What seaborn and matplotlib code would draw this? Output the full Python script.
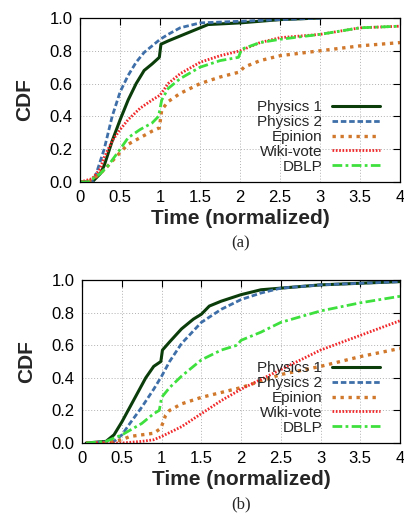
import numpy as np
import pandas as pd
import seaborn as sns
import matplotlib.pyplot as plt

# Panel (a)
a_phys1_x = [0, 0.15, 0.25, 0.3, 0.4, 0.5, 0.6, 0.7, 0.8, 0.9, 0.99, 1.01, 1.1, 1.25, 1.4, 1.5, 1.6, 2.0, 2.5, 3.0]
a_phys1_y = [0, 0.0, 0.05, 0.1, 0.25, 0.38, 0.5, 0.6, 0.68, 0.72, 0.76, 0.84, 0.86, 0.89, 0.92, 0.94, 0.96, 0.97, 0.99, 1.0]
a_phys2_x = [0, 0.15, 0.2, 0.3, 0.4, 0.5, 0.6, 0.7, 0.8, 0.9, 1.0, 1.1, 1.25, 1.5, 2.0, 2.5, 3.05]
a_phys2_y = [0, 0.0, 0.05, 0.2, 0.4, 0.55, 0.65, 0.73, 0.79, 0.83, 0.87, 0.9, 0.94, 0.97, 0.98, 0.99, 1.0]
a_epin_x = [0, 0.1, 0.25, 0.35, 0.5, 0.6, 0.75, 0.9, 0.99, 1.02, 1.1, 1.25, 1.5, 1.75, 1.99, 2.05, 2.25, 2.5, 3.0, 3.5, 4.0]
a_epin_y = [0, 0.0, 0.05, 0.1, 0.18, 0.23, 0.27, 0.31, 0.33, 0.44, 0.49, 0.54, 0.6, 0.64, 0.67, 0.7, 0.74, 0.77, 0.8, 0.83, 0.85]
a_wiki_x = [0, 0.15, 0.25, 0.3, 0.4, 0.5, 0.6, 0.75, 0.9, 1.0, 1.1, 1.25, 1.5, 1.75, 2.0, 2.25, 2.5, 3.0, 3.5, 4.0]
a_wiki_y = [0, 0.02, 0.08, 0.15, 0.25, 0.32, 0.38, 0.45, 0.5, 0.53, 0.6, 0.66, 0.73, 0.77, 0.8, 0.85, 0.88, 0.9, 0.94, 0.95]
a_dblp_x = [0, 0.1, 0.25, 0.35, 0.5, 0.6, 0.75, 0.9, 0.98, 1.02, 1.1, 1.25, 1.5, 1.75, 1.98, 2.02, 2.25, 2.5, 3.0, 3.5, 4.0]
a_dblp_y = [0, 0.0, 0.05, 0.1, 0.2, 0.27, 0.32, 0.36, 0.4, 0.5, 0.57, 0.63, 0.7, 0.74, 0.76, 0.81, 0.85, 0.87, 0.9, 0.94, 0.95]

# Panel (b)
b_phys1_x = [0.05, 0.3, 0.4, 0.5, 0.6, 0.7, 0.8, 0.9, 0.99, 1.01, 1.1, 1.25, 1.4, 1.5, 1.6, 1.75, 2.0, 2.25, 2.5, 3.0, 3.5, 4.0]
b_phys1_y = [0.0, 0.01, 0.05, 0.13, 0.22, 0.31, 0.4, 0.47, 0.5, 0.57, 0.62, 0.7, 0.76, 0.79, 0.84, 0.87, 0.91, 0.94, 0.95, 0.97, 0.98, 0.99]
b_phys2_x = [0.05, 0.4, 0.5, 0.6, 0.75, 0.9, 1.0, 1.1, 1.25, 1.5, 1.75, 2.0, 2.25, 2.5, 3.0, 3.5, 4.0]
b_phys2_y = [0.0, 0.01, 0.05, 0.12, 0.22, 0.33, 0.41, 0.5, 0.61, 0.74, 0.82, 0.88, 0.92, 0.95, 0.97, 0.98, 0.99]
b_epin_x = [0.05, 0.3, 0.5, 0.6, 0.75, 0.9, 0.99, 1.05, 1.1, 1.25, 1.5, 1.75, 2.0, 2.25, 2.5, 3.0, 3.5, 4.0]
b_epin_y = [0.0, 0.0, 0.02, 0.04, 0.05, 0.06, 0.09, 0.17, 0.2, 0.24, 0.28, 0.31, 0.34, 0.38, 0.42, 0.47, 0.53, 0.58]
b_wiki_x = [0.05, 0.5, 0.75, 0.9, 1.0, 1.25, 1.5, 1.75, 2.0, 2.25, 2.5, 3.0, 3.5, 4.0]
b_wiki_y = [0.0, 0.0, 0.01, 0.02, 0.04, 0.1, 0.18, 0.26, 0.33, 0.39, 0.45, 0.57, 0.66, 0.75]
b_dblp_x = [0.05, 0.3, 0.5, 0.75, 0.9, 0.97, 1.0, 1.1, 1.25, 1.5, 1.75, 1.95, 2.0, 2.25, 2.5, 3.0, 3.5, 4.0]
b_dblp_y = [0.0, 0.01, 0.05, 0.12, 0.18, 0.2, 0.28, 0.34, 0.41, 0.51, 0.57, 0.6, 0.63, 0.68, 0.74, 0.81, 0.86, 0.9]

etiquetas = ["Physics 1", "Physics 2", "Epinion", "Wiki-vote", "DBLP"]
colores = ["#0b3d0b", "#3f6fa8", "#d0782c", "#f0282a", "#3ee03e"]
estilos = [dict(ls="-", lw=2.2),
           dict(ls=(0, (2.0, 1.0)), lw=2.0),
           dict(ls=(0, (1.0, 1.4)), lw=2.4),
           dict(ls=(0, (0.6, 0.6)), lw=2.0),
           dict(ls=(0, (3.5, 1.2, 1.0, 1.2)), lw=2.0)]

panel_a = [(a_phys1_x, a_phys1_y), (a_phys2_x, a_phys2_y), (a_epin_x, a_epin_y),
           (a_wiki_x, a_wiki_y), (a_dblp_x, a_dblp_y)]
panel_b = [(b_phys1_x, b_phys1_y), (b_phys2_x, b_phys2_y), (b_epin_x, b_epin_y),
           (b_wiki_x, b_wiki_y), (b_dblp_x, b_dblp_y)]

sns.set_style("white")
plt.rcParams['font.family'] = ['Liberation Sans', 'DejaVu Sans']

fig = plt.figure(figsize=(4.04, 5.21), dpi=100)
ax_a = fig.add_axes([0.1985, 0.6507, 0.7915, 0.3148])
ax_b = fig.add_axes([0.2035, 0.1497, 0.7865, 0.3129])


def graficar_panel(ax, series, letra):
    for (xs, ys), lab, col, est in zip(series, etiquetas, colores, estilos):
        sns.lineplot(x=xs, y=ys, ax=ax, color=col, label=lab,
                     linestyle=est["ls"], linewidth=est["lw"], sort=False)
    ax.set_xlim(0, 4)
    ax.set_ylim(0, 1)
    ax.set_xticks(np.arange(0, 4.01, 0.5))
    ax.set_xticklabels(["0", "0.5", "1", "1.5", "2", "2.5", "3", "3.5", "4"])
    ax.set_yticks(np.arange(0, 1.01, 0.2))
    ax.set_yticklabels([f"{v:.1f}" for v in np.arange(0, 1.01, 0.2)])
    ax.tick_params(direction="in", length=5, width=0.8, labelsize=12,
                   top=True, right=True, pad=5.5, colors="black")
    ax.grid(True, color="#b0b0b0", linestyle=(0, (1, 2)), linewidth=0.7)
    for s in ax.spines.values():
        s.set_color("black")
        s.set_linewidth(0.9)
    ax.set_xlabel("Time (normalized)", fontsize=15, fontweight="bold", labelpad=3)
    ax.set_ylabel("CDF", fontsize=15, fontweight="bold", labelpad=11)
    ax.legend(loc="lower right", bbox_to_anchor=(0.97, -0.015), frameon=False,
              markerfirst=False, fontsize=11, handlelength=3.1,
              labelspacing=0.06, handletextpad=0.65, borderpad=0.2)
    for t in ax.get_legend().get_texts():
        t.set_ha("right")
    pos = ax.get_position()
    fig.text(pos.x0 + pos.width / 2, pos.y0 - 0.117, letra, ha="center", va="center",
             fontsize=12, family="Liberation Serif")


graficar_panel(ax_a, panel_a, "(a)")
graficar_panel(ax_b, panel_b, "(b)")

fig.savefig("out.png", dpi=100)
